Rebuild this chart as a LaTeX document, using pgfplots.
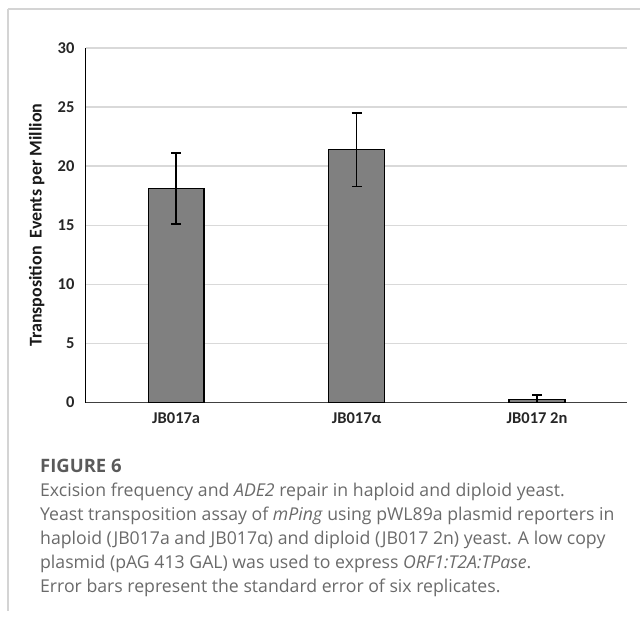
\documentclass[border=0pt]{standalone}
\usepackage{fontspec}
\setmainfont{Carlito}
\newfontfamily\capfont{Open Sans}
\usepackage{pgfplots}
\usepackage{pgfplotstable}
\pgfplotsset{compat=1.18}

\definecolor{gridgray}{HTML}{D9D9D9}
\definecolor{framegray}{HTML}{D4D4D4}
\definecolor{barfill}{HTML}{808080}
\definecolor{axisgray}{HTML}{404040}
\definecolor{captext}{HTML}{6A6A6A}
\definecolor{caphead}{HTML}{5A5A5A}

% transposition events per million: mean and standard error
\pgfplotstableread{
x  y     err
0  18.1  3.0
1  21.4  3.1
2  0.25  0.4
}\transdata

\begin{document}
\begin{tikzpicture}[x=1pt,y=1pt]
% page extent and the panel frame
\path (0,0) rectangle (641,617);
\draw[framegray, line width=1.4pt] (8,608) -- (641,608);
\draw[framegray, line width=1.4pt] (8,608) -- (8,5);

\begin{axis}[
  at={(86pt,214pt)}, anchor=south west,
  scale only axis, width=542pt, height=355pt,
  xmin=-0.5, xmax=2.5, ymin=0, ymax=30,
  axis x line*=bottom, axis y line*=left,
  x axis line style={axisgray, line width=1.3pt},
  y axis line style={black, line width=1.1pt},
  xtick={0,1,2},
  xticklabels={JB017a, JB017α, JB017 2n},
  ytick={0,5,...,30},
  major tick length=0pt,
  ymajorgrids,
  grid style={gridgray, line width=1.3pt},
  /pgf/number format/assume math mode=true,
  tick label style={font=\fontsize{16.5}{17}\selectfont\bfseries, text=black!85},
  yticklabel style={xshift=-8pt},
  xticklabel style={yshift=-7pt},
  ylabel={Transposition\ \ Events per Million},
  every axis y label/.style={at={(axis description cs:-0.091,0.5)}, rotate=90, anchor=center},
  ylabel style={font=\fontsize{18}{19}\selectfont\bfseries, text=black!90},
]
\addplot[ybar, bar width=56pt, fill=barfill, draw=black, line width=1.3pt,
  error bars/.cd, y dir=both, y explicit,
  error bar style={line width=1.3pt, black},
  error mark options={rotate=90, mark size=5pt, line width=1.3pt, black}]
  table[x=x, y=y, y error=err] {\transdata};
\end{axis}

% caption
\node[anchor=base west, inner sep=0, text=caphead] at (40,144)
  {\capfont\fontsize{18.5}{20}\selectfont\bfseries FIGURE 6};
\begin{scope}[every node/.style={anchor=base west, inner sep=0, text=captext,
    font=\capfont\fontsize{17.7}{20}\selectfont}]
\node at (40,120) {Excision frequency and \textit{ADE2} repair in haploid and diploid yeast.};
\node at (40,96) {Yeast transposition assay of \textit{mPing} using pWL89a plasmid reporters in};
\node at (40,72) {haploid (JB017a and JB017α) and diploid (JB017 2n) yeast. A low copy};
\node at (40,48) {plasmid (pAG 413 GAL) was used to express \textit{ORF1:T2A:TPase}.};
\node at (40,24) {Error bars represent the standard error of six replicates.};
\end{scope}
\end{tikzpicture}
\end{document}
